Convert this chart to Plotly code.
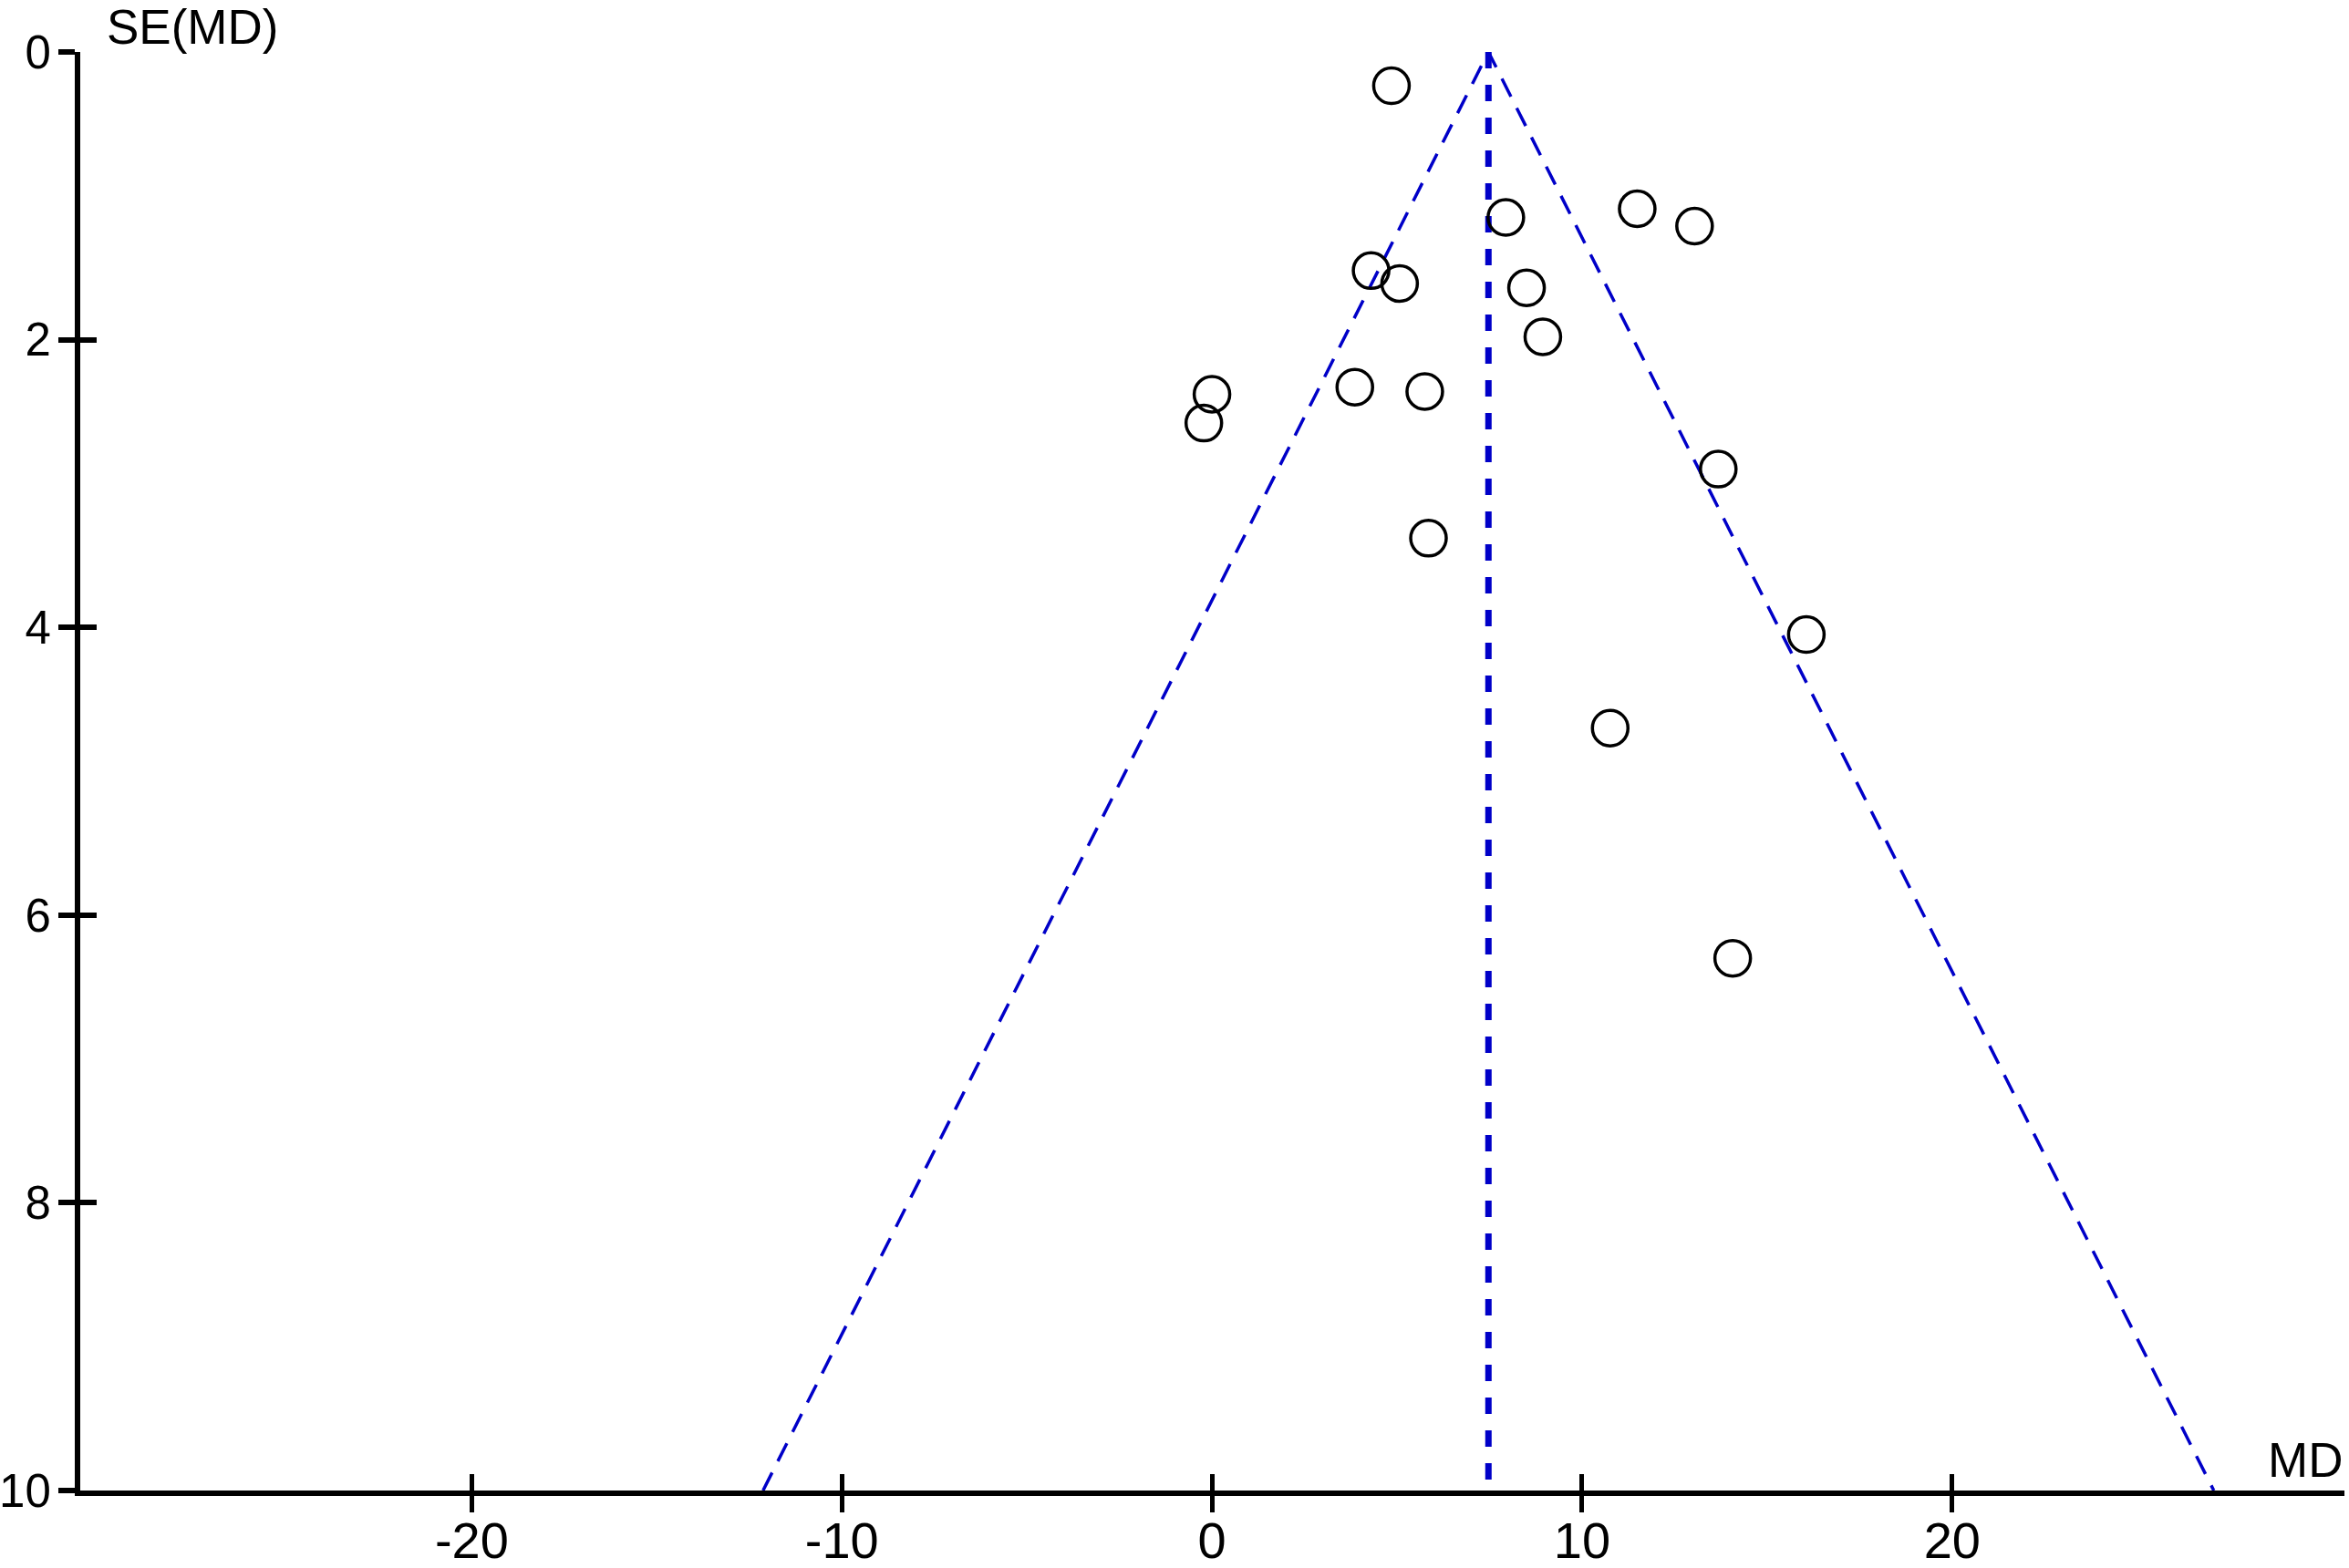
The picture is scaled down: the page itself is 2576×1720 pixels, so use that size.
import plotly.graph_objects as go

# Study-level data
md = [4.85, 7.94, 11.49, 13.04, 4.30, 5.07, 8.50, 8.94, 0.00, -0.22, 3.86, 5.75, 13.68, 5.85, 16.06, 10.76, 14.07]
se = [0.235, 1.15, 1.09, 1.21, 1.52, 1.61, 1.64, 1.98, 2.38, 2.58, 2.33, 2.36, 2.90, 3.38, 4.05, 4.70, 6.30]

# Pooled estimate and funnel (pseudo 95% CI) limits
pooled_x = [7.47, 7.47]
pooled_y = [0, 10]
funnel_x = [-12.13, 7.47, 27.07]
funnel_y = [10, 0, 10]

x_ticks = [-20, -10, 0, 10, 20]
y_ticks = [0, 2, 4, 6, 8, 10]

BLUE = "rgb(0,0,200)"
FONT = "Liberation Sans, Arial, sans-serif"

fig = go.Figure()
fig.add_trace(go.Scatter(x=funnel_x, y=funnel_y, mode="lines",
                         line=dict(color=BLUE, width=3.5, dash="22px,14px"),
                         hoverinfo="skip", showlegend=False))
fig.add_trace(go.Scatter(x=pooled_x, y=pooled_y, mode="lines",
                         line=dict(color=BLUE, width=7, dash="18px,18px"),
                         hoverinfo="skip", showlegend=False))
fig.add_trace(go.Scatter(x=md, y=se, mode="markers",
                         marker=dict(symbol="circle", size=39, color="rgba(0,0,0,0)",
                                     line=dict(color="black", width=3.5)),
                         showlegend=False, cliponaxis=False))

xr = [-30.58, 30.6]
yr = [10, 0]

fig.update_layout(
    width=2576, height=1720,
    margin=dict(l=88, r=5, t=57, b=85, autoexpand=False),
    paper_bgcolor="white", plot_bgcolor="white",
    xaxis=dict(range=xr, tickvals=x_ticks, ticktext=[str(v) for v in x_ticks],
               showgrid=False, zeroline=False, showline=True, linewidth=6, linecolor="black",
               ticks="outside", ticklen=18, tickwidth=5, tickcolor="black",
               ticklabelstandoff=-17, automargin=False,
               tickfont=dict(family=FONT, size=56, color="black")),
    yaxis=dict(range=yr, tickvals=y_ticks, ticktext=[str(v) for v in y_ticks],
               showgrid=False, zeroline=False, showline=True, linewidth=6, linecolor="black",
               ticks="outside", ticklen=18, tickwidth=6, tickcolor="black",
               ticklabelstandoff=-2, automargin=False,
               tickfont=dict(family=FONT, size=51, color="black")),
    xaxis2=dict(range=xr, overlaying="x", anchor="y", side="bottom", tickvals=x_ticks,
                showgrid=False, zeroline=False, showline=False, showticklabels=False,
                ticks="inside", ticklen=18, tickwidth=5, tickcolor="black", automargin=False),
    yaxis2=dict(range=yr, overlaying="y", anchor="x", side="left", tickvals=y_ticks,
                showgrid=False, zeroline=False, showline=False, showticklabels=False,
                ticks="inside", ticklen=18, tickwidth=6, tickcolor="black", automargin=False),
    annotations=[
        dict(text="SE(MD)", x=0.011, y=1.0, xref="paper", yref="paper",
             xanchor="left", yanchor="middle", yshift=28, showarrow=False,
             font=dict(family=FONT, size=53, color="black")),
        dict(text="MD", x=1.0, y=0.0, xref="paper", yref="paper",
             xanchor="right", yanchor="middle", xshift=0, yshift=34, showarrow=False,
             font=dict(family=FONT, size=53, color="black")),
    ],
)
# invisible trace so the overlay (crossing-tick) axes render
fig.add_trace(go.Scatter(x=[0], y=[0], xaxis="x2", yaxis="y2", mode="markers",
                         marker=dict(opacity=0), hoverinfo="skip", showlegend=False))

fig.write_html("out.html", config={"displayModeBar": False},
               post_script="document.body.style.margin='0px';document.body.style.overflow='hidden';")
